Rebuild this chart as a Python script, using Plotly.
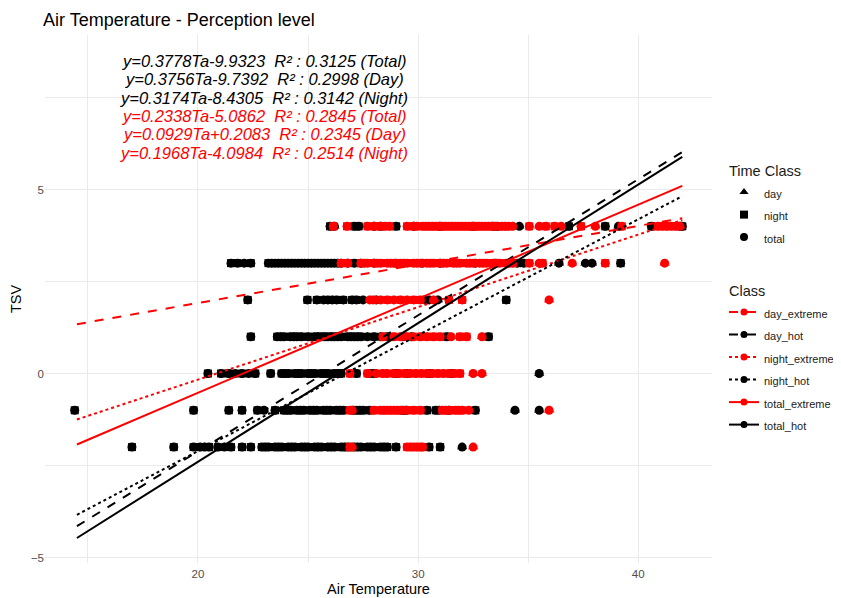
import plotly.graph_objects as go

# ---------------- data ----------------
tsv_levels = [4, 3, 2, 1, 0, -1, -2]

hot_night = {
    4: [26.0, 27.1, 27.3, 28.3, 29.0, 31.0, 32.5, 33.6, 36.85, 38.5, 40.6, 42.0],
    3: [21.5, 21.8, 22.4, 23.2, 23.5, 23.8, 24.1, 24.4, 24.7, 25.0, 25.3, 25.6, 25.9, 26.2, 26.5,
        27.1, 27.4, 29.0, 31.0, 34.5, 34.8, 39.2],
    2: [22.26, 24.97, 25.4, 25.9, 26.3, 26.6, 27.0, 27.2, 30.3, 34.0],
    1: [22.4, 23.6, 23.9, 24.2, 24.5, 24.7, 25.0, 25.3, 25.6, 25.9, 26.2, 26.5, 26.8, 27.1, 27.4,
        28.0, 28.6, 29.3, 31.3, 33.2],
    0: [20.45, 21.05, 21.4, 22.0, 22.6, 23.3, 23.8, 24.1, 24.4, 24.7, 25.0, 25.3, 25.6, 25.9, 26.2,
        26.5, 27.2, 28.0, 29.0, 30.5, 31.5],
    -1: [14.4, 19.8, 21.4, 22.0, 22.7, 23.5, 23.9, 24.2, 24.5, 24.8, 25.1, 25.4, 25.7, 26.0, 26.3,
         26.6, 27.2, 27.5, 27.8, 29.3, 30.4, 30.8, 31.4, 32.6],
    -2: [17.0, 18.9, 19.8, 20.1, 20.5, 20.9, 21.5, 22.0, 22.4, 22.9, 23.2, 23.5, 23.8, 24.1, 24.4,
         24.7, 25.0, 25.3, 25.6, 25.9, 26.2, 26.5, 26.8, 27.1, 27.4, 27.7, 28.0, 28.3, 28.6, 29.0,
         30.5, 31.0],
}
hot_day = {
    4: [26.2, 28.0, 29.8, 33.4, 34.6, 39.1, 41.9],
    3: [22.1, 23.35, 23.65, 23.95, 24.25, 24.55, 24.85, 25.15, 25.45, 25.75, 26.05, 26.35, 26.8,
        28.0, 30.2, 32.6, 33.5, 36.4, 37.6, 37.9],
    2: [25.7, 26.1, 27.5, 28.1, 30.5, 30.9],
    1: [23.75, 24.35, 25.45, 25.75, 26.05, 26.35, 26.95, 27.25, 27.7, 28.3, 29.7],
    0: [21.7, 22.3, 23.95, 24.55, 25.15, 25.75, 26.35, 27.8, 29.5, 35.5],
    -1: [23.0, 24.05, 24.65, 25.25, 25.85, 26.45, 27.05, 27.35, 29.45, 30.95, 34.4, 35.5],
    -2: [20.3, 21.2, 23.05, 23.65, 24.25, 24.85, 25.45, 26.05, 26.65, 27.25, 27.85, 28.45, 32.0],
}
ext_night = {
    4: [26.15, 26.77, 27.7, 28.0, 28.3, 28.7, 29.5, 29.8, 30.2, 30.5, 30.8, 31.1, 31.4, 31.7, 32.0,
        32.3, 32.6, 32.9, 33.2, 33.5, 33.8, 34.1, 35.05, 35.8, 36.2, 37.4, 39.25, 40.9, 41.3, 41.7],
    3: [26.5, 26.8, 27.4, 27.7, 28.0, 28.3, 28.6, 28.9, 29.2, 29.5, 29.8, 30.1, 30.4, 30.7, 31.0,
        31.3, 31.6, 31.9, 32.2, 32.5, 32.8, 33.1, 33.4, 33.7, 34.0, 34.3, 35.05, 35.65, 38.5],
    2: [27.96, 28.6, 29.2, 29.8, 30.1, 31.4, 32.0],
    1: [28.4, 28.9, 29.5, 30.1, 30.4, 30.7, 31.0, 31.9, 32.2],
    0: [26.9, 27.7, 28.4, 28.9, 29.4, 29.9, 30.4, 30.9, 31.4, 31.9],
    -1: [26.9, 28.0, 28.3, 28.6, 28.9, 29.2, 29.5, 29.8, 30.1, 31.1, 31.4, 31.7, 32.0],
    -2: [26.9, 29.5, 29.8, 30.1, 30.2],
}
ext_day = {
    4: [28.5, 29.95, 30.35, 30.65, 30.95, 31.25, 31.55, 31.85, 32.15, 32.45, 32.75, 33.05, 33.35,
        33.95, 34.3, 35.5, 36.5, 38.05, 41.1, 41.5, 41.9],
    3: [27.55, 28.15, 28.75, 29.35, 29.95, 30.55, 31.15, 31.75, 32.35, 32.95, 33.55, 34.15, 35.5,
        37.0, 41.2],
    2: [27.8, 28.3, 28.9, 29.5, 30.7, 35.95],
    1: [29.2, 29.8, 31.5, 32.9],
    0: [28.1, 28.6, 29.15, 29.65, 30.15, 30.65, 31.15, 31.65, 32.5, 32.9],
    -1: [27.0, 28.45, 28.75, 29.05, 31.25, 31.85, 32.3, 35.95],
    -2: [27.0, 29.65, 29.95, 32.5],
}

# fitted lines: value at x start / x end
line_classes = ["day_extreme", "day_hot", "night_extreme", "night_hot", "total_extreme", "total_hot"]
line_x = [14.5, 42.0]
line_y_start = [1.34, -4.15, -1.25, -3.84, -1.93, -4.47]
line_y_end = [4.22, 6.02, 4.17, 4.82, 5.10, 5.89]

eq_texts = [
    "y=0.3778Ta-9.9323  R² : 0.3125 (Total)",
    "y=0.3756Ta-9.7392  R² : 0.2998 (Day)",
    "y=0.3174Ta-8.4305  R² : 0.3142 (Night)",
    "y=0.2338Ta-5.0862  R² : 0.2845 (Total)",
    "y=0.0929Ta+0.2083  R² : 0.2345 (Day)",
    "y=0.1968Ta-4.0984  R² : 0.2514 (Night)",
]
eq_y = [8.5, 8.0, 7.5, 7.0, 6.5, 6.0]
eq_x = 23.0

time_classes = ["day", "night", "total"]

# ---------------- styling ----------------
BLACK = "#000000"
RED = "#FF0000"
FONT = "Liberation Sans, Arial, sans-serif"
class_color = {"hot": BLACK, "extreme": RED}
class_dash = {"day": "dash", "night": "dot", "total": "solid"}
time_symbol = {"day": "triangle-up", "night": "square", "total": "circle"}

# page body has an 8px margin: figure coordinates are offset by OFF
OFF = 8
W, H = 841, 598
PL, PR, PT, PB = 45, 712, 35, 563          # desired plot area on screen


def flatten(d):
    xs, ys = [], []
    for lvl in tsv_levels:
        for v in d.get(lvl, []):
            xs.append(v)
            ys.append(lvl)
    return xs, ys


def leg_text(s):
    return '<span style="font-size:11px">' + s + '</span>'


fig = go.Figure()

groups = [("hot", hot_day, hot_night), ("extreme", ext_day, ext_night)]
for cls, dday, dnight in groups:
    col = class_color[cls]
    dx, dy = flatten(dday)
    nx, ny = flatten(dnight)
    fig.add_trace(go.Scatter(x=dx + nx, y=dy + ny, mode="markers", showlegend=False,
                             marker=dict(symbol="circle", size=9, color=col), hoverinfo="skip"))
    fig.add_trace(go.Scatter(x=dx, y=dy, mode="markers", showlegend=False,
                             marker=dict(symbol="triangle-up", size=9, color=col), hoverinfo="skip"))
    fig.add_trace(go.Scatter(x=nx, y=ny, mode="markers", showlegend=False,
                             marker=dict(symbol="square", size=8, color=col), hoverinfo="skip"))

for name, y0, y1 in zip(line_classes, line_y_start, line_y_end):
    t, c = name.split("_")
    fig.add_trace(go.Scatter(x=line_x, y=[y0, y1], mode="lines", showlegend=False,
                             line=dict(color=class_color[c], width=2, dash=class_dash[t]),
                             hoverinfo="skip"))

for i, tc in enumerate(time_classes):
    fig.add_trace(go.Scatter(x=[None], y=[None], mode="markers", name=leg_text(tc), legend="legend",
                             legendgroup="time",
                             legendgrouptitle_text="Time Class" if i == 0 else None,
                             marker=dict(symbol=time_symbol[tc], size=8, color=BLACK)))
for i, name in enumerate(line_classes):
    t, c = name.split("_")
    fig.add_trace(go.Scatter(x=[None], y=[None], mode="lines+markers", name=leg_text(name),
                             legend="legend2", legendgroup="class",
                             legendgrouptitle_text="Class" if i == 0 else None,
                             line=dict(color=class_color[c], width=2, dash=class_dash[t]),
                             marker=dict(symbol="circle", size=7, color=class_color[c])))

annotations = []
for i, (txt, yy) in enumerate(zip(eq_texts, eq_y)):
    annotations.append(dict(x=eq_x, y=yy, xref="x", yref="y", text="<i>" + txt + "</i>",
                            showarrow=False, xanchor="center", yanchor="middle",
                            font=dict(family=FONT, size=16.5, color=BLACK if i < 3 else RED)))

leg_common = dict(xanchor="left", yanchor="top", bgcolor="rgba(0,0,0,0)",
                  xref="container", yref="container",
                  font=dict(family=FONT, size=15, color="#1a1a1a"),
                  grouptitlefont=dict(family=FONT, size=14.5, color="#1a1a1a"),
                  itemwidth=30, tracegroupgap=0)

fig.update_layout(
    width=W, height=H,
    margin=dict(l=PL - OFF, r=W - (PR - OFF), t=PT - OFF, b=H - (PB - OFF)),
    paper_bgcolor="white", plot_bgcolor="white",
    font=dict(family=FONT, color="#1a1a1a"),
    title=dict(text="Air Temperature - Perception level", x=(43 - OFF) / W, xanchor="left",
               y=1 - (20 - OFF) / H, yanchor="middle", xref="container", yref="container",
               font=dict(family=FONT, size=18, color="#000000")),
    annotations=annotations,
    xaxis=dict(range=[13.05, 43.35], tick0=0, dtick=10, showgrid=True, gridcolor="#EBEBEB",
               gridwidth=1.1, zeroline=False, showline=False, ticks="", ticklabelstandoff=2,
               tickfont=dict(family=FONT, size=11.5, color="#4D4D4D"),
               minor=dict(dtick=5, showgrid=True, gridcolor="#EBEBEB", gridwidth=0.6),
               title=dict(text="Air Temperature", font=dict(family=FONT, size=14.5, color="#000000"),
                          standoff=5),
               automargin=False),
    yaxis=dict(range=[-5.15, 9.2], tick0=0, dtick=5, showgrid=True, gridcolor="#EBEBEB",
               gridwidth=1.1, zeroline=False, showline=False, ticks="",
               tickfont=dict(family=FONT, size=11.5, color="#4D4D4D"),
               minor=dict(dtick=2.5, showgrid=True, gridcolor="#EBEBEB", gridwidth=0.6),
               title=dict(text="TSV", font=dict(family=FONT, size=14.5, color="#000000"), standoff=5),
               automargin=False),
    legend=dict(x=(724 - OFF) / W, y=1 - (154 - OFF) / H, **leg_common),
    legend2=dict(x=(724 - OFF) / W, y=1 - (274 - OFF) / H, **leg_common),
)

fig.write_html("out.html")
